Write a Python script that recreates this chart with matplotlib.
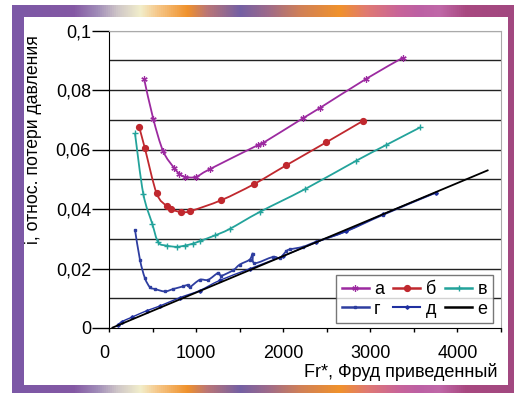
import matplotlib
matplotlib.use("Agg")
import matplotlib.pyplot as plt
import numpy as np
from matplotlib.colors import LinearSegmentedColormap
from matplotlib.lines import Line2D
from matplotlib.path import Path
from matplotlib.patches import PathPatch

plt.rcParams['font.family'] = ['Liberation Sans', 'DejaVu Sans']

# ---- data ----
a_x = [404, 508, 622, 745, 806, 871, 997, 1157, 1711, 1768, 2226, 2417, 2955, 3370]
a_y = [0.0836, 0.0703, 0.0594, 0.0539, 0.0519, 0.0508, 0.0508, 0.0534, 0.0615, 0.0622, 0.0705, 0.0739, 0.0838, 0.0908]

b_x = [347, 412, 546, 661, 710, 825, 935, 1291, 1661, 2035, 2493, 2920]
b_y = [0.0675, 0.0604, 0.0453, 0.0410, 0.0399, 0.0390, 0.0393, 0.0430, 0.0483, 0.0547, 0.0624, 0.0697]

v_x = [298, 393, 496, 565, 661, 775, 871, 966, 1042, 1214, 1386, 1730, 2245, 2837, 3181, 3570]
v_y = [0.0655, 0.0452, 0.0351, 0.0288, 0.0277, 0.0273, 0.0277, 0.0284, 0.0292, 0.0311, 0.0333, 0.0390, 0.0466, 0.0562, 0.0615, 0.0674]

g_x = [298, 355, 412, 470, 527, 641, 737, 851, 909, 930, 1042, 1138, 1252, 1290, 1424, 1500, 1615, 1650, 1670, 1882, 1958, 2035, 2073, 2226, 2379, 2722, 3142, 3753]
g_y = [0.0331, 0.0230, 0.0168, 0.0137, 0.0131, 0.0123, 0.0131, 0.0140, 0.0145, 0.0138, 0.0162, 0.0162, 0.0185, 0.0176, 0.0194, 0.0213, 0.0230, 0.0250, 0.0218, 0.0239, 0.0235, 0.0258, 0.0264, 0.0273, 0.0290, 0.0325, 0.0380, 0.0455]

d_x = [100, 145, 260, 432, 584, 813, 1042, 1271, 1615, 2000, 2379, 2722, 3142, 3753]
d_y = [0.0010, 0.0021, 0.0036, 0.0058, 0.0074, 0.0102, 0.0126, 0.0160, 0.0199, 0.0242, 0.0288, 0.0325, 0.0382, 0.0455]

e_x = [30, 4356]
e_y = [0.0000, 0.0531]

labels = ['а', 'б', 'в', 'г', 'д', 'е']
xticks_labeled = [0, 1000, 2000, 3000, 4000]
yticks_labeled = [0, 0.02, 0.04, 0.06, 0.08, 0.1]
ytick_text = ['0', '0,02', '0,04', '0,06', '0,08', '0,1']

W, H = 514, 393
fig = plt.figure(figsize=(W / 100, H / 100), dpi=100)
fig.patch.set_facecolor('white')

# ---- decorative frame ----
stops = [(12, '#7c58a6'), (73, '#8458a4'), (97, '#a08cb8'), (117, '#cfc6c8'),
         (140, '#f2eecb'), (157, '#f6c88a'), (187, '#f0922c'), (207, '#bb7676'),
         (240, '#7460a4'), (267, '#9c6a8c'), (300, '#d08058'), (340, '#f0922c'),
         (367, '#e07a72'), (400, '#c8649a'), (420, '#bc60a4'), (440, '#c068a8'),
         (467, '#a84880'), (514, '#a24880')]
pos = [(p - 12) / (514 - 12) for p, _ in stops]
cmap = LinearSegmentedColormap.from_list('frame', list(zip(pos, [c for _, c in stops])))
grad = np.linspace(0, 1, 512)[None, :]


def fig_axes(x0, y0, x1, y1):
    return fig.add_axes([x0 / W, 1 - y1 / H, (x1 - x0) / W, (y1 - y0) / H])


for (yy0, yy1) in [(5, 17), (385, 393)]:
    bar = fig_axes(12, yy0, 514, yy1)
    bar.imshow(grad, aspect='auto', cmap=cmap, extent=[0, 1, 0, 1])
    bar.set_axis_off()
for (xx0, xx1, col) in [(12, 24, '#7c58a6'), (508, 514, '#a24880')]:
    strip = fig_axes(xx0, 5, xx1, 393)
    strip.set_facecolor(col); strip.set_xticks([]); strip.set_yticks([])
    for s in strip.spines.values():
        s.set_visible(False)

# ---- main axes ----
ax = fig_axes(109, 30.5, 501, 328)
ax.set_xlim(0, 4500)
ax.set_ylim(0, 0.1)

for yv in np.arange(0.01, 0.1001, 0.01):
    ax.axhline(yv, color='#222222' if yv < 0.095 else '#aaaaaa', lw=1.0, zorder=1)


def smooth(x, y):
    pts = np.column_stack([x, y]).astype(float)
    verts = [pts[0]]
    codes = [Path.MOVETO]
    n = len(pts)
    for i in range(n - 1):
        p0 = pts[i - 1] if i > 0 else pts[i]
        p1 = pts[i]
        p2 = pts[i + 1]
        p3 = pts[i + 2] if i + 2 < n else pts[i + 1]
        verts += [p1 + (p2 - p0) / 6, p2 - (p3 - p1) / 6, p2]
        codes += [Path.CURVE4] * 3
    return Path(verts, codes)


c_a, c_b, c_v, c_g, c_d = '#9c2aa0', '#c0282e', '#23a39b', '#2e3ea0', '#2030a0'
styles = [
    (a_x, a_y, c_a, 1.3, dict(marker=(6, 2, 0), ms=4.5, mew=0.9)),
    (b_x, b_y, c_b, 1.3, dict(marker='o', ms=4.2)),
    (v_x, v_y, c_v, 1.3, dict(marker='+', ms=4, mew=1)),
    (g_x, g_y, c_g, 1.3, dict(marker='s', ms=1.5)),
    (d_x, d_y, c_d, 1.0, dict(marker='D', ms=1.8)),
    (e_x, e_y, 'black', 1.3, dict(marker='')),
]
handles = []
for (xs, ys, col, lw, mk), lab in zip(styles, labels):
    ax.add_patch(PathPatch(smooth(xs, ys), fill=False, ec=col, lw=lw, zorder=4 if col == 'black' else 3))
    if mk['marker']:
        ax.plot(xs, ys, ls='none', color=col, zorder=3, **mk)
    handles.append(Line2D([], [], color=col, lw=lw + 0.5, **mk))

ax.spines['top'].set_color('#aaaaaa')
ax.spines['right'].set_color('#aaaaaa')
ax.spines['left'].set_color('black')
ax.spines['bottom'].set_color('black')

ax.set_yticks(yticks_labeled)
ax.set_yticklabels(ytick_text, fontsize=13)
ax.tick_params(axis='y', length=12, width=1, pad=1, direction='out')
ax.set_xticks(np.arange(0, 4501, 500))
ax.set_xticklabels([str(v) if v in xticks_labeled else '' for v in range(0, 4501, 500)], fontsize=13)
ax.tick_params(axis='x', length=3, width=1, pad=9, direction='out')
ax.get_xticklabels()[0].set_ha('right')

fig.text(34 / W, 1 - 35 / H, 'i, относ. потери давления', rotation=90,
         ha='center', va='top', fontsize=12.7)
fig.text(498 / W, 1 - 372 / H, 'Fr*, Фруд приведенный', ha='right', va='center', fontsize=13)

order = [0, 3, 1, 4, 2, 5]
leg = ax.legend([handles[i] for i in order], [labels[i] for i in order], ncol=3,
                loc='lower right', bbox_to_anchor=(493 / W, 1 - 323 / H),
                bbox_transform=fig.transFigure, fontsize=13, frameon=True, fancybox=False,
                edgecolor='#555555', handlelength=1.5, handletextpad=0.3, columnspacing=0.5,
                borderpad=0.3, labelspacing=0.15, borderaxespad=0)
leg.get_frame().set_linewidth(1.0)
leg.set_zorder(10)

fig.savefig('out.png', dpi=100)
